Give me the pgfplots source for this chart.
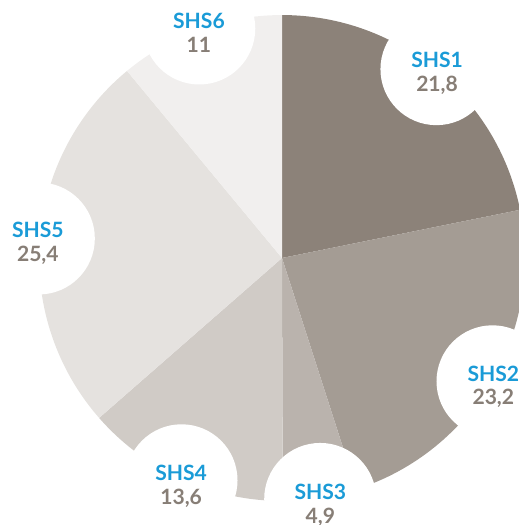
\documentclass[border=0pt]{standalone}
\usepackage{pgfplots}
\usepackage{pgfplotstable}
\pgfplotsset{compat=1.18}
\usepackage{fontspec}
\setmainfont{Lato}

\definecolor{c1}{HTML}{8C8279}
\definecolor{c2}{HTML}{A49C94}
\definecolor{c3}{HTML}{BAB3AD}
\definecolor{c4}{HTML}{D0CBC6}
\definecolor{c5}{HTML}{E5E2DF}
\definecolor{c6}{HTML}{F1EFEE}
\definecolor{shsblue}{HTML}{1A9BD7}
\definecolor{valgray}{HTML}{877E76}

\pgfkeys{/pgf/number format/.cd, use comma, precision=1, assume math mode=true}
\tikzset{lbl/.style={font=\fontsize{12}{13.6}\selectfont\bfseries, align=center, inner sep=0pt}}

\pgfplotstableread{
label value color
SHS1 21.8 c1
SHS2 23.2 c2
SHS3 4.9 c3
SHS4 13.6 c4
SHS5 25.4 c5
SHS6 11 c6
}\piedata

\begin{document}
% angles from the table (clockwise from 12 o'clock)
\pgfplotstablegetrowsof{\piedata}%
\pgfmathtruncatemacro\lastrow{\pgfplotsretval-1}%
\def\total{0}%
\pgfplotsforeachungrouped \i in {0,...,\lastrow}{%
  \pgfplotstablegetelem{\i}{value}\of\piedata
  \pgfmathsetmacro\total{\total+\pgfplotsretval}}%
\def\startang{90}%
\pgfplotsforeachungrouped \i in {0,...,\lastrow}{%
  \pgfplotstablegetelem{\i}{value}\of\piedata
  \expandafter\xdef\csname val\i\endcsname{\pgfplotsretval}%
  \pgfplotstablegetelem{\i}{label}\of\piedata
  \expandafter\xdef\csname lab\i\endcsname{\pgfplotsretval}%
  \pgfplotstablegetelem{\i}{color}\of\piedata
  \expandafter\xdef\csname col\i\endcsname{\pgfplotsretval}%
  \pgfmathsetmacro\endang{\startang-360*\csname val\i\endcsname/\total}%
  \expandafter\xdef\csname sa\i\endcsname{\startang}%
  \expandafter\xdef\csname ea\i\endcsname{\endang}%
  \let\startang\endang}%
\begin{tikzpicture}
\begin{axis}[
  x=0.02cm, y=0.02cm,
  xmin=0, xmax=519, ymin=0, ymax=525,
  hide axis, clip=true,
]
  % slices
  \pgfplotsforeachungrouped \i in {0,...,5}{%
    \edef\temp{\noexpand\fill[fill=\csname col\i\endcsname]
      (axis cs:282,267) -- ++(\csname sa\i\endcsname:4.86cm)
      arc[start angle=\csname sa\i\endcsname, end angle=\csname ea\i\endcsname, radius=4.86cm] -- cycle;}%
    \temp}
  % white bubbles on the rim
  \pgfplotsforeachungrouped \i in {0,...,5}{%
    \pgfmathsetmacro\mid{(\csname sa\i\endcsname+\csname ea\i\endcsname)/2}%
    \edef\temp{\noexpand\fill[white] (axis cs:282,267) ++(\mid:4.88cm) circle[radius=1.12cm];}%
    \temp}
  % labels
  \pgfplotsforeachungrouped \i in {0,...,5}{%
    \pgfmathsetmacro\mid{(\csname sa\i\endcsname+\csname ea\i\endcsname)/2}%
    \edef\temp{\noexpand\path (axis cs:282,267) ++(\mid:4.9cm) ++(0,-0.1cm) node[lbl]
      {\noexpand\textcolor{shsblue}{\csname lab\i\endcsname}\noexpand\\
       \noexpand\textcolor{valgray}{\noexpand\pgfmathprintnumber{\csname val\i\endcsname}}};}%
    \temp}
\end{axis}
\pgfresetboundingbox
\path[use as bounding box] (current axis.south west) rectangle (current axis.north east);
\end{tikzpicture}
\end{document}
